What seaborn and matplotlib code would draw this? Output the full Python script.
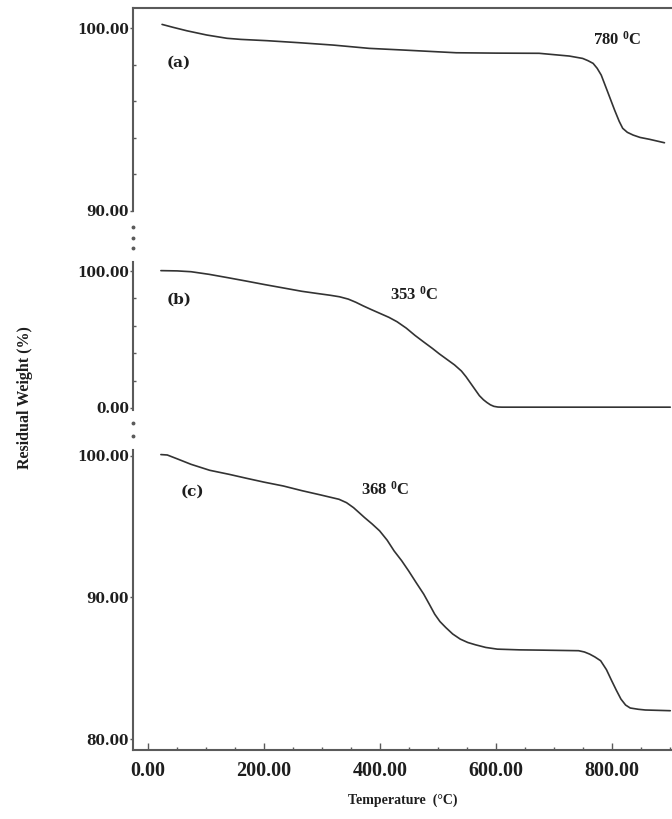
import matplotlib
matplotlib.use('Agg')
import matplotlib.pyplot as plt
from matplotlib.ticker import MultipleLocator, NullLocator
import seaborn as sns

# TGA curves: temperature (degC) vs residual weight (%)
temp_a = [24, 43, 67, 101, 136, 160, 205, 260, 319, 381, 439, 531, 600, 674, 726, 749, 758, 767, 774, 781,
          792, 804, 812, 818, 826, 836, 848, 864, 890]
weight_a = [100.2, 100.04, 99.85, 99.62, 99.44, 99.38, 99.31, 99.2, 99.07, 98.89, 98.8, 98.65, 98.63, 98.62,
            98.47, 98.34, 98.22, 98.07, 97.8, 97.43, 96.52, 95.52, 94.9, 94.52, 94.3, 94.15, 94.02, 93.92, 93.73]

temp_b = [22, 50, 74, 105, 138, 170, 201, 235, 265, 290, 314, 330, 345, 358, 371, 385, 400, 415, 429, 445,
          460, 475, 490, 502, 515, 528, 540, 548, 556, 564, 571, 578, 584, 590, 596, 603, 610, 700, 800, 900]
weight_b = [100.3, 100.1, 99.5, 97.6, 95.1, 92.6, 90.1, 87.5, 85.2, 83.7, 82.3, 81.2, 79.5, 77.2, 74.5, 71.8,
            69.0, 66.2, 63.0, 58.3, 53.0, 48.2, 43.5, 39.5, 35.5, 31.5, 27.0, 22.8, 18.0, 13.2, 9.0, 6.0,
            4.0, 2.3, 1.2, 0.7, 0.6, 0.6, 0.6, 0.6]

temp_c = [22, 33, 50, 74, 106, 140, 170, 200, 233, 265, 297, 329, 342, 354, 363, 373, 386, 399, 412, 424,
          437, 449, 462, 475, 485, 494, 503, 513, 525, 538, 551, 564, 582, 602, 640, 678, 742, 752, 761, 770,
          780, 790, 799, 807, 815, 823, 831, 845, 857, 900]
weight_c = [100.1, 100.07, 99.8, 99.41, 98.99, 98.7, 98.42, 98.15, 97.88, 97.55, 97.25, 96.94, 96.7, 96.35,
            96.02, 95.65, 95.2, 94.71, 94.05, 93.29, 92.6, 91.88, 91.05, 90.24, 89.5, 88.82, 88.3, 87.88,
            87.42, 87.06, 86.82, 86.66, 86.47, 86.35, 86.3, 86.28, 86.24, 86.15, 86.0, 85.8, 85.53, 84.9,
            84.12, 83.45, 82.82, 82.4, 82.19, 82.1, 82.05, 82.0]

panel_labels = ['(a)', '(b)', '(c)']
onset_temps = ['780', '353', '368']
x_ticks = [0, 200, 400, 600, 800]

sns.set_style('white')
plt.rcParams['font.family'] = ['Liberation Serif', 'DejaVu Serif']
plt.rcParams['font.weight'] = 'bold'
plt.rcParams['mathtext.fontset'] = 'custom'
plt.rcParams['mathtext.rm'] = 'Liberation Serif:bold'
plt.rcParams['mathtext.bf'] = 'Liberation Serif:bold'
plt.rcParams['mathtext.it'] = 'Liberation Serif:bold'

line_col = '#333333'
spine_col = '#5a5a5a'
text_col = '#1e1e1e'

fig = plt.figure(figsize=(6.72, 8.19), dpi=100)
ax_a = fig.add_axes([0.198, 0.7424, 0.802, 0.2479])
ax_b = fig.add_axes([0.198, 0.4994, 0.802, 0.1807])
ax_c = fig.add_axes([0.198, 0.0842, 0.802, 0.3663])

panels = [
    (ax_a, temp_a, weight_a, (90, 101.1), [90, 100], 2, (53, 98.1), (808, 99.35)),
    (ax_b, temp_b, weight_b, (-1.46, 106.6), [0, 100], 20, (53, 78.8), (459, 82.5)),
    (ax_c, temp_c, weight_c, (79.22, 100.42), [80, 90, 100], None, (76, 97.5), (408, 97.6)),
]

for i, (ax, t, w, ylim, yt, ymin, lab_pos, onset_pos) in enumerate(panels):
    sns.lineplot(x=t, y=w, ax=ax, color=line_col, linewidth=1.2)
    ax.set_xlim(-26, 903)
    ax.set_ylim(*ylim)
    ax.set_yticks(yt, labels=[f'{v:.2f}' for v in yt], fontfamily='DejaVu Serif',
                  fontweight='bold', fontsize=9.8, color=text_col)
    if ymin:
        ax.yaxis.set_minor_locator(MultipleLocator(ymin))
    else:
        ax.yaxis.set_minor_locator(NullLocator())
    ax.tick_params(axis='y', which='major', direction='out', length=2, width=1, pad=1, color=spine_col, left=True)
    ax.tick_params(axis='y', which='minor', direction='in', length=2, width=1, color=spine_col, left=True)
    for side in ['top', 'right', 'bottom', 'left']:
        ax.spines[side].set_visible(False)
    ax.spines['left'].set_visible(True)
    ax.spines['left'].set_color(spine_col)
    ax.spines['left'].set_linewidth(1.5)
    ax.set_xlabel('')
    ax.set_ylabel('')
    ax.text(lab_pos[0], lab_pos[1], panel_labels[i], fontfamily='DejaVu Serif', fontweight='bold',
            fontsize=11, color=text_col, ha='center', va='center')
    ax.text(onset_pos[0], onset_pos[1], onset_temps[i] + r' $^{0}$C', fontsize=12, fontweight='bold',
            color=text_col, ha='center', va='center')

# top frame line of the first panel
ax_a.spines['top'].set_visible(True)
ax_a.spines['top'].set_color(spine_col)
ax_a.spines['top'].set_linewidth(1.5)

for ax in (ax_a, ax_b):
    ax.set_xticks([])

# x axis on the bottom panel
ax_c.spines['bottom'].set_visible(True)
ax_c.spines['bottom'].set_color(spine_col)
ax_c.spines['bottom'].set_linewidth(1.5)
ax_c.set_xticks(x_ticks, labels=[f'{v:.2f}' for v in x_ticks], fontsize=14.5, fontweight='bold', color=text_col)
ax_c.xaxis.set_minor_locator(MultipleLocator(50))
ax_c.tick_params(axis='x', which='major', direction='in', length=5, width=1, pad=8, color=spine_col, bottom=True)
ax_c.tick_params(axis='x', which='minor', direction='in', length=2.5, width=1, color=spine_col, bottom=True)
ax_c.set_xlabel('Temperature  (°C)', fontsize=10, fontweight='bold', color=text_col, labelpad=9)

# axis-break dots between the panels
ax_a.plot([0, 0, 0], [-0.079, -0.133, -0.182], transform=ax_a.transAxes, ls='none', marker='o',
          ms=1.8, color=spine_col, clip_on=False)
ax_b.plot([0, 0], [-0.088, -0.176], transform=ax_b.transAxes, ls='none', marker='o',
          ms=1.8, color=spine_col, clip_on=False)

fig.text(0.037, 0.515, 'Residual Weight (%)', rotation=90, ha='center', va='center',
         fontsize=11.5, fontweight='bold', color=text_col)

fig.savefig('out.png', dpi=100)
